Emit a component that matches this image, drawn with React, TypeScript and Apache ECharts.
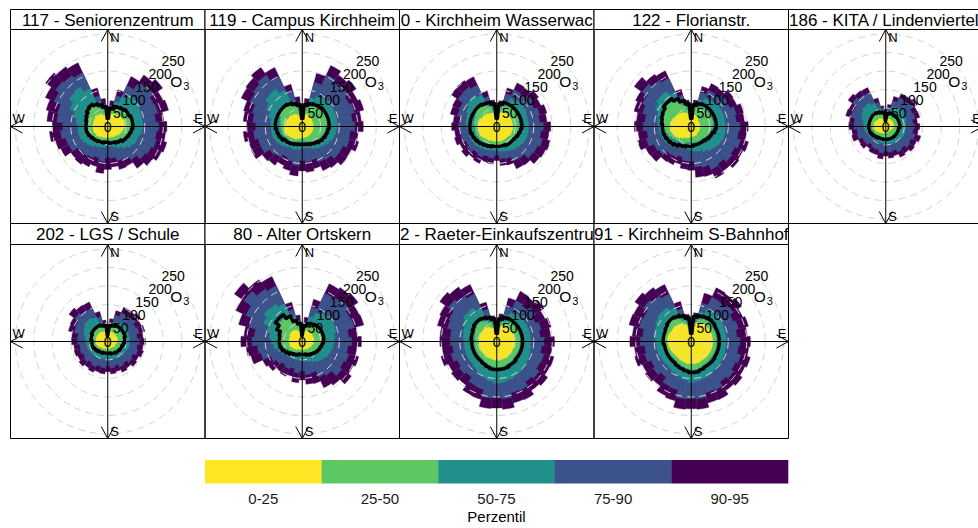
import React, { useEffect, useRef } from "react";
import * as echarts from "echarts";

const FONT = "'Liberation Sans', Arial, Helvetica, sans-serif";

// wind-direction bins (centre of each 10° sector)
const sectors = [
  "0", "10", "20", "30", "40", "50", "60", "70", "80", "90", "100", "110",
  "120", "130", "140", "150", "160", "170", "180", "190", "200", "210", "220", "230",
  "240", "250", "260", "270", "280", "290", "300", "310", "320", "330", "340", "350",
];

const percentileBands = ["0-25", "25-50", "50-75", "75-90", "90-95"];
const bandColors = ["#FDE725", "#5DC863", "#21908C", "#3B528B", "#440154"];
const radialMax = 250;
const radialStep = 50;

// 117 - Seniorenzentrum (O3 percentiles per sector)
const s117_p25 = [19,30,35,38,40,43,43,46,46,46,43,40,38,35,32,32,30,30,30,30,32,32,35,38,38,40,40,40,40,40,40,43,40,38,32,27];
const s117_p50 = [27,43,54,59,62,62,62,62,62,62,59,57,54,51,46,43,40,38,35,38,40,43,46,49,51,54,54,54,57,59,65,70,70,65,50,40];
const s117_p75 = [38,50,70,92,103,103,97,95,95,95,92,86,86,81,73,65,59,54,51,57,59,62,68,73,78,81,81,81,86,97,113,127,130,113,70,50];
const s117_p90 = [44,58,86,122,146,151,138,140,130,138,132,136,130,124,110,100,96,86,84,95,88,94,97,100,116,118,128,122,138,140,160,172,168,160,86,60];
const s117_p95 = [54,70,103,149,170,181,165,170,152,160,157,165,160,150,138,118,120,110,116,127,112,120,125,122,140,146,158,150,165,172,186,205,197,190,108,76];
const s117_mean = [22,49,57,59,62,65,65,68,68,68,65,62,59,57,51,49,46,46,43,43,46,46,49,51,54,57,59,59,59,62,65,70,73,68,62,54];

// 119 - Campus Kirchheim
const s119_p25 = [22,30,35,35,35,32,30,30,30,30,30,30,30,30,30,30,30,30,30,32,35,38,40,43,46,49,49,49,46,46,43,43,40,38,32,27];
const s119_p50 = [30,46,57,65,68,68,68,68,68,65,62,59,57,54,49,46,43,40,40,40,43,46,49,51,54,57,57,57,59,62,68,70,70,68,57,43];
const s119_p75 = [40,50,81,92,97,97,95,95,95,95,92,89,84,78,73,68,62,59,59,62,65,65,70,76,81,84,84,84,86,95,108,122,124,108,72,50];
const s119_p90 = [46,62,124,154,146,150,140,146,136,142,130,132,122,122,110,106,94,96,92,106,98,92,102,108,124,124,132,126,134,140,156,162,170,150,98,62];
const s119_p95 = [57,76,150,182,170,178,165,172,160,165,152,158,146,147,136,132,118,124,120,134,124,116,128,132,152,150,160,150,160,164,182,186,195,176,118,81];
const s119_mean = [22,59,65,68,70,73,73,73,73,73,70,68,65,62,57,54,51,49,49,49,51,54,57,59,65,68,70,73,73,73,73,73,73,70,65,59];

// 120 - Kirchheim Wasserwacht
const s120_p25 = [22,35,40,43,43,43,43,43,43,43,43,43,43,40,40,40,40,40,40,40,40,43,43,46,49,49,51,51,51,49,46,46,43,40,38,32];
const s120_p50 = [30,46,57,62,62,62,62,62,59,59,59,59,57,57,54,54,51,51,49,49,51,51,54,57,57,59,59,59,62,62,65,68,68,65,57,43];
const s120_p75 = [38,50,73,84,89,89,89,86,86,86,86,86,84,81,78,73,70,68,65,65,68,70,73,76,78,78,78,81,84,86,92,100,103,95,70,50];
const s120_p90 = [44,60,92,110,108,118,112,120,116,126,120,128,122,120,106,104,90,88,78,86,84,92,88,97,92,100,98,104,100,110,112,128,130,124,84,60];
const s120_p95 = [54,70,108,130,128,138,132,140,136,146,142,150,146,142,128,126,108,106,92,102,100,110,106,116,110,118,114,122,118,130,132,150,152,148,100,72];
const s120_mean = [22,62,68,68,68,68,68,68,68,68,65,62,59,57,57,57,54,54,54,54,57,59,62,65,68,70,73,73,73,73,73,73,73,70,68,62];

// 122 - Florianstr.
const s122_p25 = [22,32,32,30,27,24,24,24,24,24,24,24,24,24,24,27,27,27,27,30,32,35,40,46,51,54,57,57,57,54,51,49,46,43,38,30];
const s122_p50 = [30,46,54,59,59,59,59,59,59,57,54,51,49,46,43,43,43,43,43,43,46,49,51,54,59,65,70,73,76,78,84,86,84,76,62,46];
const s122_p75 = [38,52,76,84,89,92,92,92,92,92,92,92,89,86,81,76,70,68,65,62,62,65,70,76,81,84,86,89,92,97,108,116,116,103,72,52];
const s122_p90 = [42,60,96,108,106,118,116,126,122,132,128,138,130,134,124,128,114,110,94,94,86,92,94,108,112,126,120,130,126,136,146,162,152,144,88,60];
const s122_p95 = [50,72,112,128,126,138,136,146,144,154,150,160,154,158,148,154,140,138,118,116,106,114,116,134,136,150,144,154,150,160,166,188,172,166,104,72];
const s122_mean = [22,59,65,68,68,68,68,68,68,68,65,59,57,54,51,51,51,51,54,54,57,59,65,70,73,76,78,78,81,84,86,92,92,84,73,62];

// 186 - KITA / Lindenviertel
const s186_p25 = [14,19,22,22,22,22,22,22,22,22,19,19,16,16,16,16,16,16,16,16,19,19,22,24,27,30,32,32,32,32,30,27,27,24,22,19];
const s186_p50 = [22,30,35,35,35,35,35,35,35,32,32,32,32,30,30,30,30,30,30,30,30,30,32,32,35,35,38,38,40,40,43,43,43,40,35,27];
const s186_p75 = [30,43,54,59,62,62,59,57,54,54,54,54,54,51,51,49,49,46,46,46,46,46,46,49,51,54,57,59,62,68,73,78,78,70,52,36];
const s186_p90 = [38,50,72,86,86,92,80,82,74,78,74,82,76,80,72,76,68,70,66,72,66,66,62,70,70,80,78,86,86,98,96,110,104,102,68,48];
const s186_p95 = [46,60,84,98,100,106,94,95,86,92,88,98,92,95,88,92,82,86,80,88,80,80,74,84,82,95,92,100,100,112,110,124,118,116,80,56];
const s186_mean = [16,35,38,38,38,38,38,38,38,38,35,35,35,35,35,35,35,35,35,35,35,35,38,40,43,46,46,46,46,46,46,46,46,43,40,38];

// 202 - LGS / Schule
const s202_p25 = [16,24,27,27,27,27,27,27,27,24,24,22,22,22,19,19,19,19,19,19,19,22,22,24,27,30,32,32,32,32,32,32,32,30,27,22];
const s202_p50 = [22,32,40,43,43,43,43,43,43,40,40,38,38,35,35,32,32,30,30,30,30,32,32,35,35,38,38,40,40,43,46,49,49,46,40,30];
const s202_p75 = [30,43,54,59,62,62,62,59,59,59,59,57,54,54,51,51,49,49,49,49,49,51,51,54,54,57,57,59,62,68,73,78,78,73,54,36];
const s202_p90 = [38,52,74,86,86,92,84,88,80,86,80,84,76,80,72,76,68,72,66,72,70,76,72,78,74,78,76,82,82,94,96,108,102,100,70,48];
const s202_p95 = [46,62,86,102,102,108,100,104,96,102,96,100,92,96,88,92,84,88,82,88,86,92,88,95,90,94,92,98,98,110,112,128,120,118,84,58];
const s202_mean = [16,43,46,49,49,49,49,49,46,46,43,40,40,38,38,35,35,32,32,32,32,35,35,38,40,43,43,43,46,46,49,49,49,49,46,43];

// 80 - Alter Ortskern
const s80_p25 = [16,24,30,32,32,32,32,32,32,30,30,27,27,24,24,22,22,22,22,22,22,24,27,30,32,35,35,35,35,35,38,38,38,35,30,24];
const s80_p50 = [24,35,46,54,57,59,59,59,57,54,51,49,46,43,40,38,35,35,32,32,32,35,38,40,43,49,54,57,59,65,73,78,78,73,57,38];
const s80_p75 = [32,49,70,86,95,97,97,95,89,86,84,81,78,73,68,62,57,54,51,51,51,51,54,57,62,70,78,84,89,100,116,127,124,113,72,46];
const s80_p90 = [40,54,96,144,148,156,144,146,126,134,124,130,124,130,112,106,88,90,80,86,76,82,78,86,94,116,122,136,130,150,168,192,174,166,90,58];
const s80_p95 = [50,66,118,172,178,184,170,172,150,160,148,158,152,162,144,138,118,116,104,112,98,104,100,112,118,144,152,166,158,178,198,224,204,194,110,72];
const s80_mean = [16,43,51,54,57,59,59,59,59,57,54,51,49,46,43,40,38,35,35,35,38,40,43,49,54,59,62,62,62,65,76,89,89,76,59,49];

// 92 - Raeter-Einkaufszentrum
const s92_p25 = [22,36,44,46,48,48,48,48,48,48,48,48,48,48,48,50,50,50,50,50,48,48,48,48,48,48,48,48,48,48,48,48,48,44,38,28];
const s92_p50 = [30,44,56,60,63,63,63,63,63,63,63,63,63,63,65,66,68,70,70,68,65,63,60,60,60,60,60,60,60,62,65,68,68,62,54,40];
const s92_p75 = [38,52,76,86,92,92,92,92,92,92,92,95,97,100,103,105,108,111,113,108,103,97,92,89,89,89,89,89,92,95,103,111,111,100,72,50];
const s92_p90 = [44,62,100,122,118,128,116,124,118,128,122,132,130,140,134,146,144,156,152,154,134,132,118,124,118,128,120,126,126,138,142,160,152,142,90,56];
const s92_p95 = [54,75,122,150,146,156,144,152,146,156,150,160,158,168,162,174,172,184,180,182,162,160,144,150,144,156,148,154,154,166,170,188,180,170,110,70];
const s92_mean = [22,62,68,70,70,70,70,70,70,70,70,70,70,70,73,73,76,76,76,76,73,70,68,68,68,68,68,68,70,70,73,76,76,73,68,62];

// 191 - Kirchheim S-Bahnhof
const s191_p25 = [24,42,52,56,58,58,58,58,58,58,58,58,58,58,58,58,60,60,60,60,58,58,56,56,58,60,62,64,64,62,60,60,58,55,48,34];
const s191_p50 = [30,50,63,68,70,70,68,68,68,68,68,68,68,68,70,70,73,76,76,73,70,68,65,65,66,68,70,72,72,72,73,76,76,70,59,43];
const s191_p75 = [38,54,84,97,100,100,97,95,95,95,95,95,97,97,100,103,105,108,111,105,100,95,92,92,92,95,95,97,100,103,108,113,113,103,74,52];
const s191_p90 = [44,64,108,132,130,138,126,132,124,132,128,138,132,140,134,146,144,156,154,156,136,134,118,126,120,130,126,138,132,146,144,158,150,142,92,58];
const s191_p95 = [54,78,135,160,158,166,154,160,152,160,156,165,160,168,162,174,172,184,182,184,166,162,146,152,146,158,154,166,160,174,172,186,178,170,112,74];
const s191_mean = [22,68,73,76,78,78,76,76,76,76,76,76,76,78,78,78,81,84,84,81,78,76,73,73,73,73,73,76,76,76,78,81,81,78,73,65];

type Station = {
  title: string;
  align: "center" | "left";
  p25: number[]; p50: number[]; p75: number[]; p90: number[]; p95: number[]; mean: number[];
};

const stations: Station[] = [
  { title: "117 - Seniorenzentrum", align: "center", p25: s117_p25, p50: s117_p50, p75: s117_p75, p90: s117_p90, p95: s117_p95, mean: s117_mean },
  { title: "119 - Campus Kirchheim", align: "center", p25: s119_p25, p50: s119_p50, p75: s119_p75, p90: s119_p90, p95: s119_p95, mean: s119_mean },
  { title: "0 - Kirchheim Wasserwac", align: "center", p25: s120_p25, p50: s120_p50, p75: s120_p75, p90: s120_p90, p95: s120_p95, mean: s120_mean },
  { title: "122 - Florianstr.", align: "center", p25: s122_p25, p50: s122_p50, p75: s122_p75, p90: s122_p90, p95: s122_p95, mean: s122_mean },
  { title: "186 - KITA / Lindenviertel", align: "left", p25: s186_p25, p50: s186_p50, p75: s186_p75, p90: s186_p90, p95: s186_p95, mean: s186_mean },
  { title: "202 - LGS / Schule", align: "center", p25: s202_p25, p50: s202_p50, p75: s202_p75, p90: s202_p90, p95: s202_p95, mean: s202_mean },
  { title: "80 - Alter Ortskern", align: "center", p25: s80_p25, p50: s80_p50, p75: s80_p75, p90: s80_p90, p95: s80_p95, mean: s80_mean },
  { title: "2 - Raeter-Einkaufszentrum", align: "left", p25: s92_p25, p50: s92_p50, p75: s92_p75, p90: s92_p90, p95: s92_p95, mean: s92_mean },
  { title: "91 - Kirchheim S-Bahnhof", align: "center", p25: s191_p25, p50: s191_p50, p75: s191_p75, p90: s191_p90, p95: s191_p95, mean: s191_mean },
];

// panel grid
const COLS = [10, 204.5, 399, 593.5, 788];
const PANEL_W = 194.5;
const ROWS = [
  { strip: 9.5, top: 29.5, bottom: 223.5 },
  { strip: 223.5, top: 244.5, bottom: 438.5 },
];
const R = 92.5; // pixel radius of the outer (250) ring

function buildOption() {
  const polar: any[] = [];
  const angleAxis: any[] = [];
  const radiusAxis: any[] = [];
  const series: any[] = [];
  const graphic: any[] = [];

  const labelStyle = {
    show: true, margin: 0, align: "center", verticalAlign: "middle",
    fontSize: 14, color: "#000", fontFamily: FONT,
  };

  stations.forEach((st, i) => {
    const col = i % 5;
    const row = Math.floor(i / 5);
    const xl = COLS[col] + 0.5;
    const xr = xl + PANEL_W;
    const { strip, top, bottom } = ROWS[row];
    const cx = (xl + xr) / 2;
    const cy = (top + bottom) / 2;
    const base = i * 4;

    for (let k = 0; k < 4; k++) polar.push({ center: [cx, cy], radius: R });

    angleAxis.push(
      { polarIndex: base, type: "category", data: sectors, startAngle: 95, clockwise: true, boundaryGap: true, show: false },
      { polarIndex: base + 1, type: "value", min: 0, max: 360, startAngle: 90, clockwise: true, show: false },
      { polarIndex: base + 2, type: "value", min: 0, max: 360, startAngle: 45, clockwise: true, show: false },
      { polarIndex: base + 3, type: "value", min: 0, max: 360, startAngle: 45, clockwise: true, show: false }
    );
    radiusAxis.push(
      { polarIndex: base, type: "value", min: 0, max: radialMax, show: false },
      { polarIndex: base + 1, type: "value", min: 0, max: radialMax, show: false },
      {
        // rings and the inner scale labels
        polarIndex: base + 2, type: "value", min: 0, max: radialMax, interval: radialStep, z: 10,
        axisLine: { show: false }, axisTick: { show: false },
        axisLabel: { ...labelStyle },
        splitLine: { show: true, lineStyle: { color: "#d3d3d3", width: 1, type: [7, 5] } },
      },
      {
        // outermost scale label
        polarIndex: base + 3, type: "value", min: 0, max: radialMax, interval: radialStep, z: 10,
        axisLine: { show: false }, axisTick: { show: false }, splitLine: { show: false },
        axisLabel: { ...labelStyle, showMaxLabel: true, formatter: (v: number) => (v === radialMax ? String(v) : "") },
      }
    );

    // percentile bars, widest first so the inner bands sit on top
    const bands: (keyof Station)[] = ["p95", "p90", "p75", "p50", "p25"];
    bands.forEach((key, j) => {
      series.push({
        type: "bar", coordinateSystem: "polar", polarIndex: base,
        data: st[key] as number[], barGap: "-100%", barCategoryGap: "0%",
        itemStyle: { color: bandColors[4 - j], borderColor: bandColors[4 - j], borderWidth: 0.4 },
        silent: true, z: 2,
      });
    });

    // mean concentration drawn as a closed stepped outline
    const m = st.mean;
    const pts: number[][] = [[m[0], 0], [m[0], 5]];
    for (let k = 1; k < sectors.length; k++) {
      const a = Number(sectors[k]);
      pts.push([m[k], a - 5], [m[k], a + 5]);
    }
    pts.push([m[0], 355], [m[0], 360]);
    series.push({
      type: "line", coordinateSystem: "polar", polarIndex: base + 1, data: pts,
      symbol: "none", silent: true, z: 20,
      lineStyle: { color: "#000", width: 3.4, join: "round", cap: "round" },
    });

    // compass cross with arrow heads
    const ax = { stroke: "#000", lineWidth: 1, fill: "none" };
    graphic.push(
      { type: "line", shape: { x1: xl, y1: cy, x2: xr, y2: cy }, style: ax, z: 40, silent: true },
      { type: "line", shape: { x1: cx, y1: top, x2: cx, y2: bottom }, style: ax, z: 40, silent: true },
      { type: "polyline", shape: { points: [[cx - 6.5, top + 12], [cx, top], [cx + 6.5, top + 12]] }, style: ax, z: 40, silent: true },
      { type: "polyline", shape: { points: [[cx - 6.5, bottom - 12], [cx, bottom], [cx + 6.5, bottom - 12]] }, style: ax, z: 40, silent: true },
      { type: "polyline", shape: { points: [[xr - 12, cy - 6.5], [xr, cy], [xr - 12, cy + 6.5]] }, style: ax, z: 40, silent: true },
      { type: "polyline", shape: { points: [[xl + 12, cy - 6.5], [xl, cy], [xl + 12, cy + 6.5]] }, style: ax, z: 40, silent: true }
    );
    const lbl = { fontSize: 13, fontFamily: FONT, fill: "#000" };
    graphic.push(
      { type: "text", x: cx + 2.5, y: top + 1, style: { ...lbl, text: "N", textAlign: "left", textVerticalAlign: "top" }, z: 41, silent: true },
      { type: "text", x: cx + 2.5, y: bottom - 0.5, style: { ...lbl, text: "S", textAlign: "left", textVerticalAlign: "bottom" }, z: 41, silent: true },
      { type: "text", x: xr - 2, y: cy - 2, style: { ...lbl, text: "E", textAlign: "right", textVerticalAlign: "bottom" }, z: 41, silent: true },
      { type: "text", x: xl + 2, y: cy - 1.5, style: { ...lbl, text: "W", textAlign: "left", textVerticalAlign: "bottom" }, z: 41, silent: true }
    );

    // pollutant name beside the radial scale
    graphic.push(
      { type: "text", x: cx + 68.5, y: cy - 45, style: { text: "O", fontSize: 15.5, fontFamily: FONT, fill: "#000", textAlign: "center", textVerticalAlign: "middle" }, z: 41, silent: true },
      { type: "text", x: cx + 75.5, y: cy - 40.5, style: { text: "3", fontSize: 11, fontFamily: FONT, fill: "#000", textAlign: "left", textVerticalAlign: "middle" }, z: 41, silent: true }
    );

    // panel frame and strip
    graphic.push(
      { type: "rect", shape: { x: xl, y: top, width: PANEL_W, height: bottom - top }, style: { fill: "none", stroke: "#000", lineWidth: 1 }, z: 45, silent: true },
      { type: "rect", shape: { x: xl, y: strip, width: PANEL_W, height: top - strip }, style: { fill: "#fff", stroke: "#000", lineWidth: 1 }, z: 50 + i * 2, silent: true },
      {
        type: "text",
        x: st.align === "center" ? cx : xl + 0.5,
        y: (strip + top) / 2 + 0.5,
        style: { text: st.title, fontSize: 17, fontFamily: FONT, fill: "#000", textAlign: st.align, textVerticalAlign: "middle" },
        z: 51 + i * 2, silent: true,
      }
    );
  });

  // colour key
  const legX = 205, legW = 583, legY = 460, legH = 23.5;
  const segW = legW / percentileBands.length;
  percentileBands.forEach((lab, k) => {
    graphic.push(
      { type: "rect", shape: { x: legX + k * segW, y: legY, width: segW + 0.3, height: legH }, style: { fill: bandColors[k] }, z: 30, silent: true },
      { type: "text", x: legX + (k + 0.5) * segW, y: 498, style: { text: lab, fontSize: 15, fontFamily: FONT, fill: "#1a1a1a", textAlign: "center", textVerticalAlign: "middle" }, z: 30, silent: true }
    );
  });
  graphic.push({ type: "text", x: legX + legW / 2, y: 516.5, style: { text: "Perzentil", fontSize: 15, fontFamily: FONT, fill: "#000", textAlign: "center", textVerticalAlign: "middle" }, z: 30, silent: true });

  return {
    animation: false,
    backgroundColor: "#ffffff",
    polar, angleAxis, radiusAxis, series, graphic,
  };
}

export default function App() {
  const ref = useRef<HTMLDivElement>(null);
  useEffect(() => {
    if (!ref.current) return;
    const chart = echarts.init(ref.current, null, { renderer: "svg" });
    chart.setOption(buildOption());
    return () => chart.dispose();
  }, []);
  return (
    <div
      ref={ref}
      style={{ position: "fixed", left: 0, top: 0, width: 978, height: 528, background: "#fff" }}
    />
  );
}
